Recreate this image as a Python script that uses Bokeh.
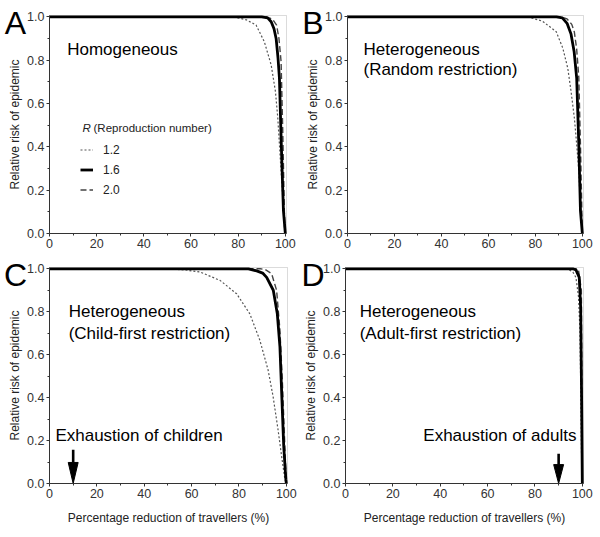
from bokeh.plotting import figure
from bokeh.models import Label, Legend, LegendItem, FixedTicker, Range1d, BoxAnnotation
from bokeh.layouts import gridplot
from bokeh.embed import file_html
from bokeh.resources import INLINE

FONT = "Liberation Sans"

# ---------------- data ----------------
R_LABELS = ["1.2", "1.6", "2.0"]
X_TICKS = [0, 20, 40, 60, 80, 100]
X_MINOR = [10, 30, 50, 70, 90]
Y_TICKS = [0.0, 0.2, 0.4, 0.6, 0.8, 1.0]
Y_TICK_LABELS = ["0.0", "0.2", "0.4", "0.6", "0.8", "1.0"]
Y_MINOR = [0.1, 0.3, 0.5, 0.7, 0.9]

# Panel A: homogeneous
A_X_12 = [0, 75, 79, 83.5, 87.6, 91.1, 94.0, 95.8, 96.8, 97.5, 98.2, 98.9, 99.6, 100]
A_Y_12 = [1, 1, 0.997, 0.986, 0.962, 0.885, 0.778, 0.656, 0.534, 0.411, 0.289, 0.167, 0.03, 0]
A_X_16 = [0, 90, 92.5, 94.0, 95.2, 96.1, 96.9, 97.5, 98.3, 99.2, 100]
A_Y_16 = [1, 1, 0.995, 0.977, 0.945, 0.90, 0.81, 0.717, 0.41, 0.106, 0]
A_X_20 = [0, 92, 94.5, 96.3, 97.3, 98.2, 98.9, 99.6, 100]
A_Y_20 = [1, 1, 0.99, 0.962, 0.90, 0.794, 0.48, 0.1, 0]

# Panel B: heterogeneous, random restriction
B_X_12 = [0, 72, 77.5, 83, 88.9, 91.7, 93.8, 95.2, 96.6, 97.6, 98.5, 99.0, 99.9, 100]
B_Y_12 = [1, 1, 0.997, 0.98, 0.931, 0.855, 0.763, 0.656, 0.534, 0.411, 0.289, 0.167, 0.03, 0]
B_X_16 = [0, 89, 91.5, 93.5, 95.2, 96.5, 97.6, 98.5, 99.2, 100]
B_Y_16 = [1, 1, 0.995, 0.97, 0.92, 0.84, 0.717, 0.41, 0.106, 0]
B_X_20 = [0, 91, 93.5, 95.5, 96.6, 97.6, 98.5, 99.2, 100]
B_Y_20 = [1, 1, 0.99, 0.965, 0.93, 0.85, 0.72, 0.41, 0]

# Panel C: heterogeneous, child-first restriction
C_X_12 = [0, 50, 57, 63.6, 72, 79, 84.6, 88.8, 92.3, 94.4, 96.5, 98, 99.4, 100]
C_Y_12 = [1, 1, 0.995, 0.985, 0.946, 0.884, 0.79, 0.668, 0.529, 0.406, 0.251, 0.128, 0.02, 0]
C_X_16 = [0, 84, 87.5, 90, 91.7, 94.5, 96.2, 97.3, 98.1, 98.9, 99.8, 100]
C_Y_16 = [1, 1, 0.99, 0.98, 0.96, 0.90, 0.79, 0.637, 0.406, 0.175, 0.02, 0]
C_X_20 = [0, 89, 91, 93.8, 95.9, 97.3, 98.3, 99.1, 100]
C_Y_20 = [1, 1, 0.997, 0.977, 0.90, 0.714, 0.483, 0.25, 0]

# Panel D: heterogeneous, adult-first restriction
D_X_12 = [0, 92, 94.5, 96, 97.3, 98.4, 99.0, 99.4, 99.8, 100]
D_Y_12 = [1, 1, 0.995, 0.985, 0.96, 0.869, 0.714, 0.406, 0.02, 0]
D_X_16 = [0, 96, 97.3, 98.7, 99.3, 99.7, 100]
D_Y_16 = [1, 1, 0.995, 0.96, 0.82, 0.4, 0]
D_X_20 = [0, 97.5, 98.4, 99.6, 99.9, 100]
D_Y_20 = [1, 1, 0.995, 0.9, 0.3, 0]

EXHAUST_CHILDREN_X = 10
EXHAUST_ADULTS_X = 90

X_MAX = 100.5
Y_MAX = 1.006

# ---------------- styling ----------------
STYLE_12 = dict(line_color="#555555", line_width=1.2, line_dash="2 2")
STYLE_16 = dict(line_color="#000000", line_width=2.8)
STYLE_20 = dict(line_color="#444444", line_width=1.4, line_dash="6 3")


def make_panel(letter, letter_x, letter_y, size, pad_left, pad_top, plot_w, plot_h,
               xs, ys, xlabel):
    """The frame fills the whole figure; pad_* are the pixels kept around the
    data box [0, X_MAX] x [0, Y_MAX] for the axes, their labels and the letter."""
    w, h = size
    pad_right = w - pad_left - plot_w
    pad_bottom = h - pad_top - plot_h
    x_per_px = X_MAX / plot_w
    y_per_px = Y_MAX / plot_h
    p = figure(width=w, height=h, output_backend="svg", toolbar_location=None,
               x_range=Range1d(-pad_left * x_per_px, X_MAX + pad_right * x_per_px),
               y_range=Range1d(-pad_bottom * y_per_px, Y_MAX + pad_top * y_per_px),
               min_border_left=0, min_border_right=0,
               min_border_top=0, min_border_bottom=0)
    p.grid.visible = False
    p.outline_line_color = None
    p.background_fill_color = "white"
    p.border_fill_color = "white"
    p.add_layout(BoxAnnotation(left=0, right=X_MAX, bottom=0, top=Y_MAX,
                               fill_alpha=0, line_color="#888888", line_width=1,
                               level="underlay"))

    p.xaxis.fixed_location = 0
    p.yaxis.fixed_location = 0
    p.xaxis.bounds = (0, X_MAX)
    p.yaxis.bounds = (0, Y_MAX)
    p.xaxis.ticker = FixedTicker(ticks=X_TICKS, minor_ticks=X_MINOR)
    p.yaxis.ticker = FixedTicker(ticks=Y_TICKS, minor_ticks=Y_MINOR)
    p.yaxis.major_label_overrides = {t: s for t, s in zip(Y_TICKS, Y_TICK_LABELS)}
    for ax in (p.xaxis[0], p.yaxis[0]):
        ax.axis_line_color = "#333333"
        ax.major_tick_line_color = "#333333"
        ax.minor_tick_line_color = "#333333"
        ax.major_tick_out = 3
        ax.major_tick_in = 0
        ax.minor_tick_out = 2
        ax.minor_tick_in = 0
        ax.major_label_text_font = FONT
        ax.major_label_text_font_size = "12.5px"
        ax.major_label_text_color = "#333333"
        ax.major_label_standoff = 2
        ax.axis_label_text_font = FONT
        ax.axis_label_text_font_size = "12px"
        ax.axis_label_text_font_style = "normal"
        ax.axis_label_text_color = "#222222"
    p.yaxis.axis_label = "Relative risk of epidemic"
    p.yaxis.axis_label_standoff = 2
    if xlabel:
        p.xaxis.axis_label = "Percentage reduction of travellers (%)"
        p.xaxis.axis_label_standoff = 10

    r12 = p.line(xs[0], ys[0], **STYLE_12)
    r20 = p.line(xs[2], ys[2], **STYLE_20)
    r16 = p.line(xs[1], ys[1], **STYLE_16)

    p.add_layout(Label(x=letter_x, y=letter_y, x_units="screen", y_units="screen",
                       text=letter, text_font=FONT, text_font_size="32px",
                       text_align="center", text_baseline="middle", text_color="black"))
    return p, (r12, r16, r20)


def add_text(p, x, y, text, align="left", size="17px"):
    p.add_layout(Label(x=x, y=y, text=text, text_font=FONT, text_font_size=size,
                       text_align=align, text_baseline="middle", text_color="black"))


def add_arrow(p, x, y_top, y_head):
    half_w = 2.1
    p.line([x, x], [y_top, y_head], line_color="black", line_width=2.6)
    p.patch([x - half_w, x + half_w, x], [y_head, y_head, 0.0],
            fill_color="black", line_color="black", line_width=1)


# panel A: figure at page (0, 0), 300x256; x=0 at 49, x=max at 286; y=max at 15, y=0 at 233
pA, (a12, a16, a20) = make_panel("A", 15, 234, (300, 256), 49, 15, 237, 218,
                                 (A_X_12, A_X_16, A_X_20), (A_Y_12, A_Y_16, A_Y_20), False)
add_text(pA, 7.5, 0.85, "Homogeneous")
legend = Legend(items=[LegendItem(label=R_LABELS[0], renderers=[a12]),
                       LegendItem(label=R_LABELS[1], renderers=[a16]),
                       LegendItem(label=R_LABELS[2], renderers=[a20])],
                location=(80, 57), glyph_width=13, glyph_height=19, label_height=19,
                spacing=1, padding=0, margin=0, label_standoff=10,
                background_fill_alpha=0, border_line_alpha=0,
                label_text_font=FONT, label_text_font_size="12px", label_text_color="#222222")
pA.add_layout(legend, "center")
pA.add_layout(Label(x=82, y=129, x_units="screen", y_units="screen", text="R",
                    text_font=FONT, text_font_size="11.5px", text_font_style="italic",
                    text_baseline="middle", text_color="#222222"))
pA.add_layout(Label(x=93, y=129, x_units="screen", y_units="screen", text="(Reproduction number)",
                    text_font=FONT, text_font_size="11.5px",
                    text_baseline="middle", text_color="#222222"))

# panel B: figure at page (300, 0), 299x256; x=0 at 347, x=max at 583
pB, _ = make_panel("B", 12.5, 234, (299, 256), 47, 15, 236, 218,
                   (B_X_12, B_X_16, B_X_20), (B_Y_12, B_Y_16, B_Y_20), False)
add_text(pB, 6.8, 0.85, "Heterogeneous")
add_text(pB, 6.8, 0.755, "(Random restriction)")

# panel C: figure at page (0, 256), 300x280; x=0 at 49, x=max at 287; y=max at 267, y=0 at 483
pC, _ = make_panel("C", 15, 262, (300, 280), 49, 11, 238, 216,
                   (C_X_12, C_X_16, C_X_20), (C_Y_12, C_Y_16, C_Y_20), True)
add_text(pC, 8.1, 0.80, "Heterogeneous")
add_text(pC, 8.1, 0.70, "(Child-first restriction)")
add_text(pC, 2.5, 0.222, "Exhaustion of children")
add_arrow(pC, EXHAUST_CHILDREN_X, 0.157, 0.098)

# panel D: figure at page (300, 256), 299x280; x=0 at 345, x=max at 583
pD, _ = make_panel("D", 12.5, 262, (299, 280), 45, 11, 238, 216,
                   (D_X_12, D_X_16, D_X_20), (D_Y_12, D_Y_16, D_Y_20), True)
add_text(pD, 6.0, 0.80, "Heterogeneous")
add_text(pD, 6.0, 0.70, "(Adult-first restriction)")
add_text(pD, 97.5, 0.222, "Exhaustion of adults", align="right")
add_arrow(pD, EXHAUST_ADULTS_X, 0.139, 0.088)

grid = gridplot([[pA, pB], [pC, pD]], toolbar_location=None)

open("out.html", "w").write(file_html(grid, INLINE))
